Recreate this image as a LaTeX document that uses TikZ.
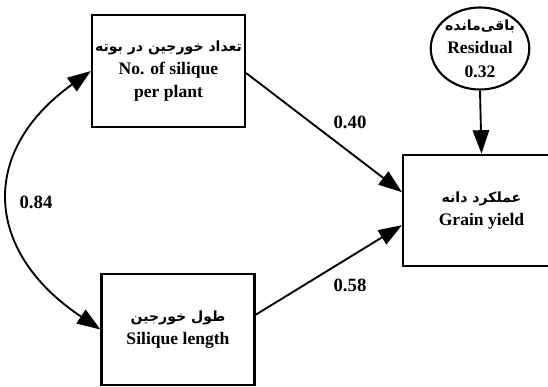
\documentclass[tikz,border=0pt]{standalone}
\usepackage{fontspec}
\setmainfont{Liberation Serif}
\newfontfamily\fa[Script=Arabic]{DejaVu Sans}
\TeXXeTstate=1
\usetikzlibrary{arrows.meta,shapes.geometric}
\newcommand{\fatext}[1]{{\fa\bfseries\fontsize{12}{20}\selectfont\beginR #1\endR}}
\begin{document}
\begin{tikzpicture}[x=0.03cm,y=-0.03cm,
  box/.style={draw,line width=1.8pt,minimum width=4.59cm,minimum height=3.35cm,align=center,inner sep=0pt,font=\fontsize{15}{20}\selectfont\bfseries},
  resid/.style={draw,ellipse,line width=1.8pt,minimum width=2.7cm,minimum height=2.46cm,align=center,inner sep=0pt,font=\fontsize{15}{20}\selectfont\bfseries},
  arr/.style={line width=1.6pt,-{Triangle[length=20pt,width=14pt]}},
  dbl/.style={line width=1.6pt,{Triangle[length=20pt,width=14pt]}-{Triangle[length=20pt,width=14pt]}},
  lab/.style={font=\fontsize{16}{18}\selectfont\bfseries}]
\useasboundingbox (0,0) rectangle (548,387);
\node[box] (ns) at (168.5,71) {\fatext{تعداد خورجین در بوته}\\No. of silique\\per plant};
\node[box] (sl) at (178,329.5) {\fatext{طول خورجین}\\Silique length};
\node[box,minimum width=4.71cm] (gy) at (481.5,210.5) {\fatext{عملکرد دانه}\\Grain yield};
\node[resid] (re) at (480,48.5) {\fatext{باقی‌مانده}\\Residual\\0.32};
\draw[arr] (re.south) -- (gy.north);
\draw[arr] ([yshift=-0.06cm]ns.east) -- ([yshift=0.55cm]gy.west);
\draw[arr] ([yshift=0.44cm]sl.east) -- ([yshift=-0.44cm]gy.west);
\draw[dbl] (ns.west) .. controls +(-112,80) and +(-117,-78) .. (sl.west);
\node[lab] (l40) at (350,122) {0.40};
\node[lab] (l58) at (350,285) {0.58};
\node[lab] (l84) at (36,202) {0.84};
\end{tikzpicture}
\end{document}
